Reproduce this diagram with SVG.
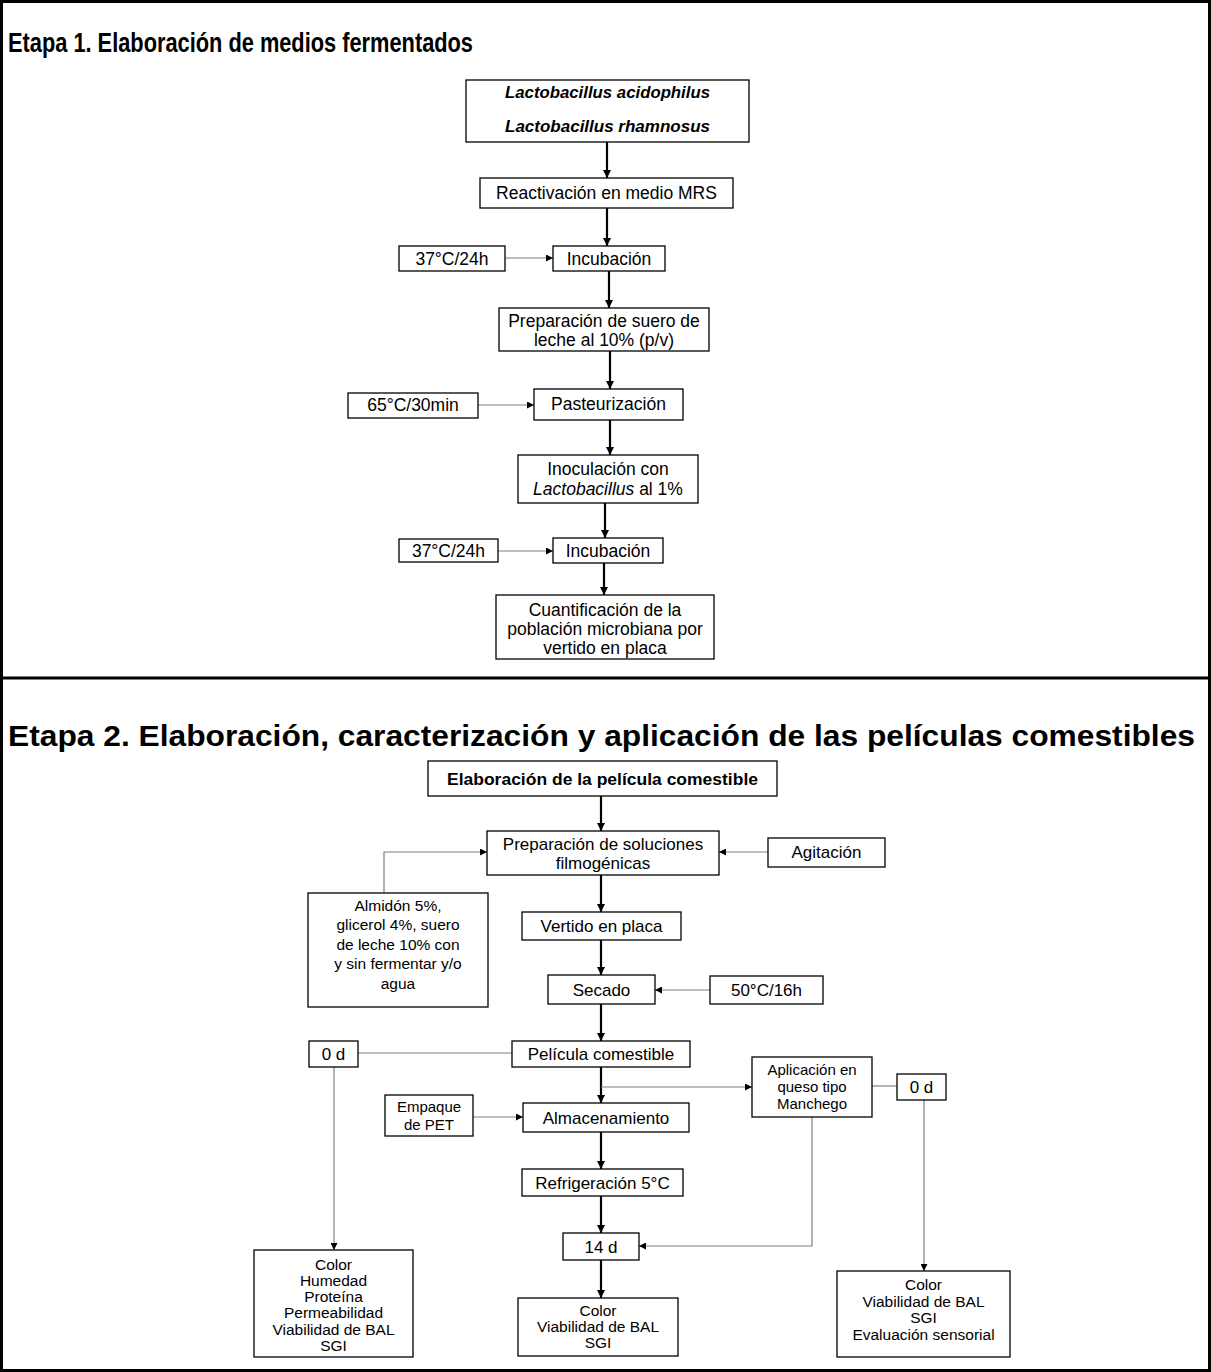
<svg xmlns="http://www.w3.org/2000/svg" width="1211" height="1372" viewBox="0 0 1211 1372">
<defs>
<marker id="ah" viewBox="0 0 10 10" refX="10" refY="5" markerWidth="9" markerHeight="8" markerUnits="userSpaceOnUse" orient="auto"><path d="M0,0 L10,5 L0,10 z" fill="#000"/></marker>
<marker id="ahs" viewBox="0 0 10 10" refX="10" refY="5" markerWidth="8" markerHeight="7" markerUnits="userSpaceOnUse" orient="auto"><path d="M0,0 L10,5 L0,10 z" fill="#000"/></marker>
<style>
.box{fill:#fff;stroke:#000;stroke-width:1.3}
.t{font-family:"Liberation Sans",Arial,sans-serif;fill:#000;text-anchor:middle}
.t1{font-size:17.5px}
.t2{font-size:17px}
.t3{font-size:15.5px}
.t4{font-size:15px}
.title{font-family:"Liberation Sans",Arial,sans-serif;font-weight:bold;fill:#000}
.main{stroke:#000;stroke-width:2.2;fill:none;marker-end:url(#ah)}
.thin{stroke:#808080;stroke-width:1.2;fill:none}
.thina{stroke:#808080;stroke-width:1.2;fill:none;marker-end:url(#ahs)}
</style>
</defs>
<rect x="1.5" y="1.5" width="1208" height="1369" fill="#fff" stroke="#000" stroke-width="3"/>
<line x1="0" y1="678" x2="1211" y2="678" stroke="#000" stroke-width="3"/>
<text class="title" x="8" y="52" font-size="28" textLength="465" lengthAdjust="spacingAndGlyphs">Etapa 1. Elaboración de medios fermentados</text>
<text class="title" x="8" y="746" font-size="29" textLength="1187" lengthAdjust="spacingAndGlyphs">Etapa 2. Elaboración, caracterización y aplicación de las películas comestibles</text>

<g id="connectors">
<line class="main" x1="607" y1="142" x2="607" y2="178"/>
<line class="main" x1="607" y1="208" x2="607" y2="246"/>
<line class="thina" x1="505" y1="258" x2="553" y2="258"/>
<line class="main" x1="609" y1="271" x2="609" y2="308"/>
<line class="main" x1="610" y1="351" x2="610" y2="389"/>
<line class="thina" x1="478" y1="405" x2="534" y2="405"/>
<line class="main" x1="610" y1="420" x2="610" y2="455"/>
<line class="main" x1="605" y1="503" x2="605" y2="538"/>
<line class="thina" x1="498" y1="551" x2="553" y2="551"/>
<line class="main" x1="604" y1="563" x2="604" y2="595"/>

<line class="main" x1="601" y1="796" x2="601" y2="831"/>
<line class="thina" x1="768" y1="852" x2="719" y2="852"/>
<polyline class="thina" points="384,893 384,852 487,852"/>
<line class="main" x1="601" y1="875" x2="601" y2="912"/>
<line class="main" x1="601" y1="940" x2="601" y2="975"/>
<line class="thina" x1="710" y1="990" x2="655" y2="990"/>
<line class="main" x1="601" y1="1004" x2="601" y2="1041"/>
<line class="thin" x1="358" y1="1053" x2="512" y2="1053"/>
<line class="thina" x1="334" y1="1067" x2="334" y2="1250"/>
<line class="main" x1="601" y1="1067" x2="601" y2="1103"/>
<line class="thina" x1="601" y1="1087" x2="752" y2="1087"/>
<line class="thin" x1="872" y1="1086" x2="897" y2="1086"/>
<line class="thina" x1="924" y1="1100" x2="924" y2="1271"/>
<polyline class="thina" points="812,1117 812,1246 639,1246"/>
<line class="thina" x1="473" y1="1117" x2="523" y2="1117"/>
<line class="main" x1="601" y1="1132" x2="601" y2="1169"/>
<line class="main" x1="601" y1="1196" x2="601" y2="1233"/>
<line class="main" x1="601" y1="1260" x2="601" y2="1298"/>
</g>

<g id="n-lacto"><rect class="box" x="466" y="80" width="283" height="62"/>
<text class="t" x="607.5" y="98" font-size="16" font-weight="bold" font-style="italic" textLength="205" lengthAdjust="spacingAndGlyphs">Lactobacillus  acidophilus</text>
<text class="t" x="607.5" y="132" font-size="16" font-weight="bold" font-style="italic" textLength="205" lengthAdjust="spacingAndGlyphs">Lactobacillus  rhamnosus</text></g>
<g id="n-reactivacion"><rect class="box" x="480" y="178" width="253" height="30"/>
<text class="t t1" x="606.5" y="199">Reactivación en medio MRS</text></g>
<g id="n-temp1"><rect class="box" x="399" y="246" width="106" height="25"/>
<text class="t t1" x="452" y="265">37°C/24h</text></g>
<g id="n-incub1"><rect class="box" x="553" y="246" width="112" height="25"/>
<text class="t t1" x="609" y="265">Incubación</text></g>
<g id="n-suero"><rect class="box" x="499" y="308" width="210" height="43"/>
<text class="t t1" x="604" y="327">Preparación de suero de</text>
<text class="t t1" x="604" y="346">leche al 10% (p/v)</text></g>
<g id="n-temp2"><rect class="box" x="348" y="393" width="130" height="25"/>
<text class="t t1" x="413" y="411">65°C/30min</text></g>
<g id="n-pasteur"><rect class="box" x="534" y="389" width="149" height="31"/>
<text class="t t1" x="608.5" y="410">Pasteurización</text></g>
<g id="n-inoculacion"><rect class="box" x="518" y="455" width="180" height="48"/>
<text class="t t1" x="608" y="475">Inoculación con</text>
<text class="t t1" x="608" y="495"><tspan font-style="italic">Lactobacillus</tspan> al 1%</text></g>
<g id="n-temp3"><rect class="box" x="399" y="539" width="99" height="23"/>
<text class="t t1" x="448.5" y="557">37°C/24h</text></g>
<g id="n-incub2"><rect class="box" x="553" y="538" width="110" height="25"/>
<text class="t t1" x="608" y="557">Incubación</text></g>
<g id="n-cuantificacion"><rect class="box" x="496" y="595" width="218" height="64"/>
<text class="t t1" x="605" y="616">Cuantificación de la</text>
<text class="t t1" x="605" y="635">población microbiana por</text>
<text class="t t1" x="605" y="654">vertido en placa</text></g>

<g id="n-elab"><rect class="box" x="428" y="761" width="349" height="35"/>
<text class="t" x="602.5" y="785" font-size="17" font-weight="bold" textLength="311" lengthAdjust="spacingAndGlyphs">Elaboración de la película comestible</text></g>
<g id="n-soluciones"><rect class="box" x="487" y="831" width="232" height="44"/>
<text class="t t2" x="603" y="850">Preparación de soluciones</text>
<text class="t t2" x="603" y="869">filmogénicas</text></g>
<g id="n-agitacion"><rect class="box" x="768" y="838" width="117" height="29"/>
<text class="t t2" x="826.5" y="858">Agitación</text></g>
<g id="n-almidon"><rect class="box" x="308" y="893" width="180" height="114"/>
<text class="t t3" x="398" y="911">Almidón 5%,</text>
<text class="t t3" x="398" y="930">glicerol 4%, suero</text>
<text class="t t3" x="398" y="950">de leche 10% con</text>
<text class="t t3" x="398" y="969">y sin fermentar y/o</text>
<text class="t t3" x="398" y="989">agua</text></g>
<g id="n-vertido"><rect class="box" x="522" y="912" width="159" height="28"/>
<text class="t t2" x="601.5" y="932">Vertido en placa</text></g>
<g id="n-secado"><rect class="box" x="548" y="975" width="107" height="29"/>
<text class="t t2" x="601.5" y="996">Secado</text></g>
<g id="n-temp4"><rect class="box" x="710" y="976" width="113" height="28"/>
<text class="t t2" x="766.5" y="996">50°C/16h</text></g>
<g id="n-pelicula"><rect class="box" x="512" y="1041" width="178" height="26"/>
<text class="t t2" x="601" y="1060">Película comestible</text></g>
<g id="n-0d-left"><rect class="box" x="309" y="1041" width="49" height="26"/>
<text class="t t2" x="333.5" y="1060">0 d</text></g>
<g id="n-aplicacion"><rect class="box" x="752" y="1057" width="120" height="60"/>
<text class="t t4" x="812" y="1075">Aplicación en</text>
<text class="t t4" x="812" y="1092">queso tipo</text>
<text class="t t4" x="812" y="1109">Manchego</text></g>
<g id="n-0d-right"><rect class="box" x="897" y="1074" width="49" height="26"/>
<text class="t t2" x="921.5" y="1093">0 d</text></g>
<g id="n-empaque"><rect class="box" x="385" y="1095" width="88" height="41"/>
<text class="t t4" x="429" y="1112">Empaque</text>
<text class="t t4" x="429" y="1130">de  PET</text></g>
<g id="n-almacenamiento"><rect class="box" x="523" y="1103" width="166" height="29"/>
<text class="t t2" x="606" y="1124">Almacenamiento</text></g>
<g id="n-refrigeracion"><rect class="box" x="522" y="1169" width="161" height="27"/>
<text class="t t2" x="602.5" y="1189">Refrigeración 5°C</text></g>
<g id="n-14d"><rect class="box" x="563" y="1233" width="76" height="27"/>
<text class="t t2" x="601" y="1253">14 d</text></g>
<g id="n-res-mid"><rect class="box" x="518" y="1298" width="160" height="58"/>
<text class="t t3" x="598" y="1316">Color</text>
<text class="t t3" x="598" y="1332">Viabilidad de BAL</text>
<text class="t t3" x="598" y="1348">SGI</text></g>
<g id="n-res-left"><rect class="box" x="254" y="1250" width="159" height="107"/>
<text class="t t3" x="333.5" y="1270">Color</text>
<text class="t t3" x="333.5" y="1286">Humedad</text>
<text class="t t3" x="333.5" y="1302">Proteína</text>
<text class="t t3" x="333.5" y="1318">Permeabilidad</text>
<text class="t t3" x="333.5" y="1335">Viabilidad de BAL</text>
<text class="t t3" x="333.5" y="1351">SGI</text></g>
<g id="n-res-right"><rect class="box" x="837" y="1271" width="173" height="86"/>
<text class="t t3" x="923.5" y="1290">Color</text>
<text class="t t3" x="923.5" y="1307">Viabilidad de BAL</text>
<text class="t t3" x="923.5" y="1323">SGI</text>
<text class="t t3" x="923.5" y="1340">Evaluación sensorial</text></g>
</svg>
